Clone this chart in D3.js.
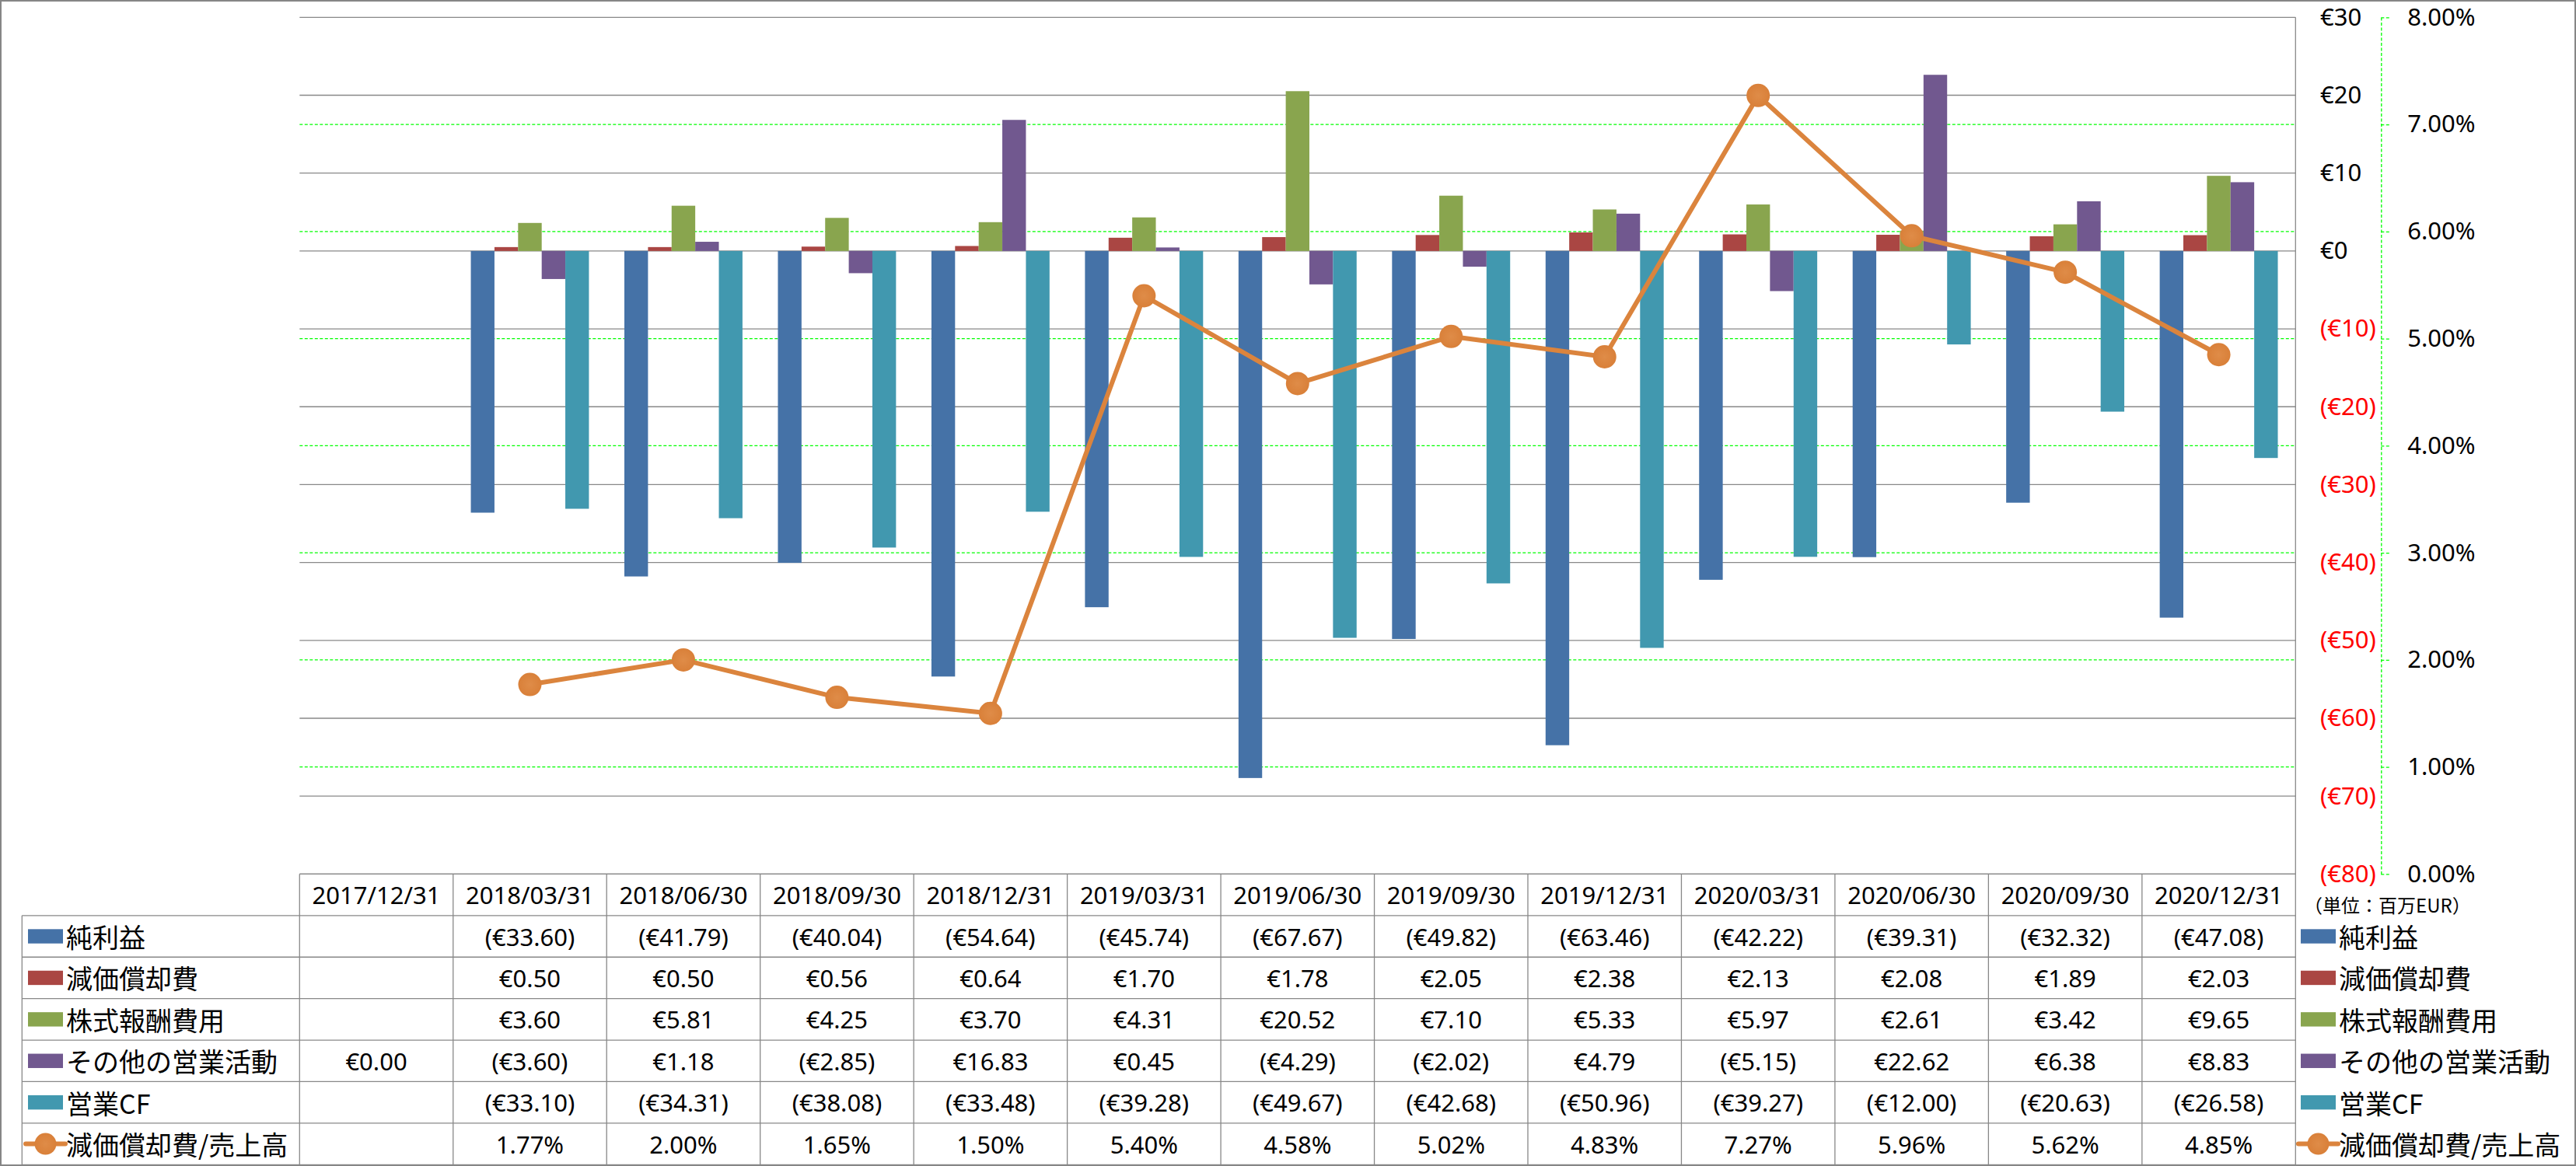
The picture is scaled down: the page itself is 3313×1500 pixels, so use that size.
<!DOCTYPE html>
<html>
<head>
<meta charset="utf-8">
<script src="https://cdn.jsdelivr.net/npm/d3@7"></script>
<style>
  html, body { margin: 0; padding: 0; background: #fff; }
  svg { display: block; }
</style>
</head>
<body>
<svg id="chart" width="3313" height="1500"></svg>
<script>
// ---------------- DATA ----------------
const categories = ['2017/12/31','2018/03/31','2018/06/30','2018/09/30','2018/12/31','2019/03/31','2019/06/30','2019/09/30','2019/12/31','2020/03/31','2020/06/30','2020/09/30','2020/12/31'];
const seriesNames = ['純利益','減価償却費','株式報酬費用','その他の営業活動','営業CF'];
const lineName = '減価償却費/売上高';
const netIncome    = [null,-33.60,-41.79,-40.04,-54.64,-45.74,-67.67,-49.82,-63.46,-42.22,-39.31,-32.32,-47.08];
const depreciation = [null,0.50,0.50,0.56,0.64,1.70,1.78,2.05,2.38,2.13,2.08,1.89,2.03];
const stockComp    = [null,3.60,5.81,4.25,3.70,4.31,20.52,7.10,5.33,5.97,2.61,3.42,9.65];
const otherOps     = [0.00,-3.60,1.18,-2.85,16.83,0.45,-4.29,-2.02,4.79,-5.15,22.62,6.38,8.83];
const operatingCF  = [null,-33.10,-34.31,-38.08,-33.48,-39.28,-49.67,-42.68,-50.96,-39.27,-12.00,-20.63,-26.58];
const depRatio     = [null,1.77,2.00,1.65,1.50,5.40,4.58,5.02,4.83,7.27,5.96,5.62,4.85];
const primaryTicks   = [30,20,10,0,-10,-20,-30,-40,-50,-60,-70,-80];
const secondaryTicks = [0,1,2,3,4,5,6,7,8];
const unitLabel = '（単位：百万EUR）';

const barSeries = [netIncome, depreciation, stockComp, otherOps, operatingCF];
const barColors = ['#4572A7','#AA4643','#89A54E','#71588F','#4198AF'];
const lineColor = '#DB843D';

// ---------------- LAYOUT ----------------
const W = 3313, H = 1500;
const plotL = 385.3, plotR = 2952.3, plotT = 22.3, plotB = 1124.4;
const tableBottom = 1498.3;
const rowH = (tableBottom - plotB) / 7;
const latin = "'Noto Sans', 'DejaVu Sans', sans-serif";
const cjk = "'Noto Sans CJK JP', 'Noto Sans', sans-serif";
const gridGray = '#888888';

const svg = d3.select('#chart');

// frame
svg.append('rect').attr('x',1).attr('y',1).attr('width',W-2).attr('height',H-2)
  .attr('fill','#fff').attr('stroke','#868686').attr('stroke-width',2);

const x = d3.scaleBand().domain(categories).range([plotL, plotR]).paddingInner(0).paddingOuter(0);
const bw = x.bandwidth() / 6.5;
const xs = d3.scaleBand().domain(d3.range(5)).range([0.75*bw, 5.75*bw]).padding(0);
const y = d3.scaleLinear().domain([-80, 30]).range([plotB, plotT]);
const y2 = d3.scaleLinear().domain([0, 8]).range([plotB, plotT]);

// gray primary gridlines
svg.append('g').selectAll('line').data(primaryTicks).join('line')
  .attr('x1', plotL).attr('x2', plotR)
  .attr('y1', d => y(d)).attr('y2', d => y(d))
  .attr('stroke', gridGray).attr('stroke-width', 1.3);

// green dashed secondary gridlines
svg.append('g').selectAll('line').data(secondaryTicks.filter(t => t > 0 && t < 8)).join('line')
  .attr('x1', plotL).attr('x2', plotR)
  .attr('y1', d => y2(d)).attr('y2', d => y2(d))
  .attr('stroke', '#00FF00').attr('stroke-width', 1.3).attr('stroke-dasharray', '4,2.5');

// plot right border
svg.append('line').attr('x1', plotR).attr('x2', plotR).attr('y1', plotT).attr('y2', tableBottom)
  .attr('stroke', gridGray).attr('stroke-width', 1.3);

// bars
barSeries.forEach((vals, si) => {
  svg.append('g').selectAll('rect')
    .data(vals.map((v, i) => ({v, c: categories[i]})).filter(d => d.v !== null && d.v !== 0))
    .join('rect')
    .attr('x', d => x(d.c) + xs(si))
    .attr('width', xs.bandwidth())
    .attr('y', d => Math.min(y(d.v), y(0)))
    .attr('height', d => Math.abs(y(d.v) - y(0)))
    .attr('fill', barColors[si]);
});

// marker gradient
const defs = svg.append('defs');
const rg = defs.append('radialGradient').attr('id','mk');
rg.append('stop').attr('offset','0%').attr('stop-color','#DF8C48');
rg.append('stop').attr('offset','100%').attr('stop-color','#D98039');

// line
const linePts = depRatio.map((v, i) => ({v, c: categories[i]}));
const lineGen = d3.line().defined(d => d.v !== null)
  .x(d => x(d.c) + x.bandwidth()/2).y(d => y2(d.v));
svg.append('path').datum(linePts).attr('d', lineGen)
  .attr('fill','none').attr('stroke', lineColor).attr('stroke-width', 6).attr('stroke-linejoin','round');
svg.append('g').selectAll('circle').data(linePts.filter(d => d.v !== null)).join('circle')
  .attr('cx', d => x(d.c) + x.bandwidth()/2).attr('cy', d => y2(d.v)).attr('r', 15)
  .attr('fill', 'url(#mk)');

// primary axis labels (right side)
const axP = d3.axisRight(y).tickValues(primaryTicks).tickSize(0).tickPadding(0)
  .tickFormat(d => d < 0 ? `(€${Math.abs(d)})` : `€${d}`);
const gP = svg.append('g').attr('transform', `translate(2984,0)`).call(axP);
gP.select('.domain').remove();
gP.selectAll('text').attr('font-family', latin).attr('font-size', 31)
  .attr('fill', d => d < 0 ? '#FF0000' : '#000');

// secondary axis
const axS = d3.axisRight(y2).tickValues(secondaryTicks).tickSize(11).tickSizeOuter(0).tickPadding(23)
  .tickFormat(d => d.toFixed(2) + '%');
const gS = svg.append('g').attr('transform', `translate(3062.3,0)`).call(axS);
gS.select('.domain').attr('stroke', '#00FF00').attr('stroke-width', 1.3).attr('stroke-dasharray','4,2.5');
gS.selectAll('.tick line').attr('stroke', '#00FF00').attr('stroke-width', 1.3).attr('stroke-dasharray','4,2.5');
gS.selectAll('text').attr('font-family', latin).attr('font-size', 31).attr('fill', '#000');

// unit label
svg.append('text').attr('x', 2963).attr('y', 1163).attr('dominant-baseline','central')
  .attr('font-family', cjk).attr('font-size', 24).attr('fill','#000').text(unitLabel);

// ---------------- TABLE ----------------
const tg = svg.append('g');
const lineStyle = s => s.attr('stroke', gridGray).attr('stroke-width', 1.3);
// horizontal lines
tg.append('line').attr('x1', plotL).attr('x2', plotR).attr('y1', plotB).attr('y2', plotB).call(lineStyle);
d3.range(1, 8).forEach(k => {
  const yy = plotB + k*rowH;
  tg.append('line').attr('x1', 28.3).attr('x2', plotR).attr('y1', yy).attr('y2', yy).call(lineStyle);
});
// vertical lines
tg.append('line').attr('x1', 28.3).attr('x2', 28.3).attr('y1', plotB + rowH).attr('y2', tableBottom).call(lineStyle);
categories.forEach(c => {
  tg.append('line').attr('x1', x(c)).attr('x2', x(c)).attr('y1', plotB).attr('y2', tableBottom).call(lineStyle);
});

// header texts
tg.selectAll('text.hdr').data(categories).join('text').attr('class','hdr')
  .attr('x', d => x(d) + x.bandwidth()/2).attr('y', plotB + rowH/2)
  .attr('text-anchor','middle').attr('dominant-baseline','central')
  .attr('font-family', latin).attr('font-size', 31).attr('fill','#000').text(d => d);

const fmtMoney = v => v < 0 ? `(€${Math.abs(v).toFixed(2)})` : `€${v.toFixed(2)}`;
const fmtPct = v => v.toFixed(2) + '%';
const allRows = barSeries.concat([depRatio]);
allRows.forEach((vals, ri) => {
  const cy = plotB + (ri + 1.5) * rowH;
  tg.append('g').selectAll('text')
    .data(vals.map((v, i) => ({v, c: categories[i]})).filter(d => d.v !== null))
    .join('text')
    .attr('x', d => x(d.c) + x.bandwidth()/2).attr('y', cy)
    .attr('text-anchor','middle').attr('dominant-baseline','central')
    .attr('font-family', latin).attr('font-size', 31).attr('fill','#000')
    .text(d => ri === 5 ? fmtPct(d.v) : fmtMoney(d.v));
});

// legends (left in table, right outside)
const labels = seriesNames.concat([lineName]);
[{sx: 36, tx: 85}, {sx: 2959, tx: 3008}].forEach(pos => {
  labels.forEach((lab, ri) => {
    const cy = plotB + (ri + 1.5) * rowH;
    if (ri < 5) {
      tg.append('rect').attr('x', pos.sx).attr('y', cy - 9.2).attr('width', 45).attr('height', 18.4)
        .attr('fill', barColors[ri]);
    } else {
      tg.append('line').attr('x1', pos.sx - 3).attr('x2', pos.sx + 48).attr('y1', cy).attr('y2', cy)
        .attr('stroke', lineColor).attr('stroke-width', 6).attr('stroke-linecap','round');
      tg.append('circle').attr('cx', pos.sx + 22.5).attr('cy', cy).attr('r', 14).attr('fill','url(#mk)');
    }
    tg.append('text').attr('x', pos.tx).attr('y', cy).attr('dominant-baseline','central')
      .attr('font-family', cjk).attr('font-size', 34).attr('fill','#000').text(lab);
  });
});
</script>
</body>
</html>
